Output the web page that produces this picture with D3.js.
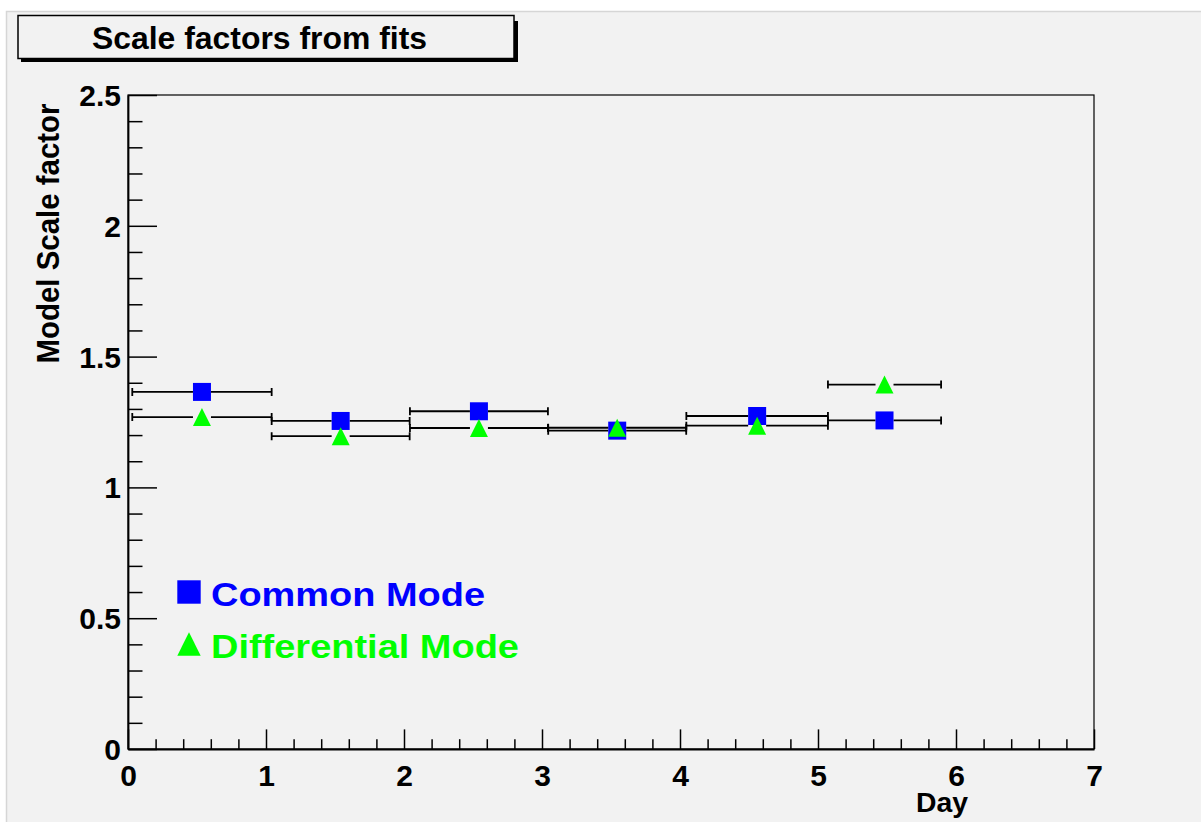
<!DOCTYPE html>
<html>
<head>
<meta charset="utf-8">
<script src="https://cdn.jsdelivr.net/npm/d3@7"></script>
<style>
  html, body { margin: 0; padding: 0; background: #ffffff; }
  svg { display: block; }
  text { font-family: "Liberation Sans", Arial, Helvetica, sans-serif; font-weight: bold; }
</style>
</head>
<body>
<svg id="chart" width="1201" height="822"></svg>
<script>
// Fitted scale factors per day, with the day range each fit covers
const days = [0.536, 1.541, 2.543, 3.545, 4.559, 5.482];
const dayErr = [0.505, 0.500, 0.500, 0.500, 0.513, 0.410];
const commonMode = [1.365, 1.254, 1.291, 1.217, 1.273, 1.256];
const differentialMode = [1.269, 1.196, 1.227, 1.228, 1.236, 1.393];

const xTicks = [0, 1, 2, 3, 4, 5, 6, 7];
const yTicks = [0, 0.5, 1, 1.5, 2, 2.5];
const seriesNames = ["Common Mode", "Differential Mode"];

const svg = d3.select("#chart");
const W = 1201, H = 822;

// canvas
svg.append("rect").attr("x", 6).attr("y", 11).attr("width", W - 6).attr("height", H - 11)
  .attr("fill", "#f2f2f2");
svg.append("path").attr("d", `M6.5,${H} V11.5 H${W}`)
  .attr("fill", "none").attr("stroke", "#d6d6d6").attr("stroke-width", 1.5);

const frame = { left: 128, right: 1094, top: 95, bottom: 749 };
const x = d3.scaleLinear().domain([0, 7]).range([frame.left, frame.right]);
const y = d3.scaleLinear().domain([0, 2.5]).range([frame.bottom, frame.top]);

// frame
svg.append("rect").attr("x", frame.left).attr("y", frame.top)
  .attr("width", frame.right - frame.left).attr("height", frame.bottom - frame.top)
  .attr("fill", "#f2f2f2").attr("stroke", "#000").attr("stroke-width", 1.2);

const plotW = frame.right - frame.left, plotH = frame.bottom - frame.top;
const yMajor = plotW * 0.03, xMajor = plotH * 0.03;

// y axis: major ticks with labels, minor ticks every 0.1
const yAxis = svg.append("g").attr("transform", `translate(${frame.left},0)`)
  .call(d3.axisLeft(y).tickValues(yTicks).tickSizeInner(-yMajor).tickSizeOuter(0)
    .tickPadding(7).tickFormat(d3.format("~g")));
yAxis.select(".domain").attr("stroke-width", 1.8);
yAxis.selectAll(".tick line").attr("stroke-width", 1.5);
yAxis.selectAll(".tick text").attr("font-size", 30).attr("fill", "#000")
  .attr("dy", null).attr("dominant-baseline", "central").attr("font-family", null);
svg.append("g").attr("transform", `translate(${frame.left},0)`)
  .call(d3.axisLeft(y).tickValues(d3.range(0, 26).map(i => i / 10).filter(v => Math.round(v * 10) % 5 !== 0))
    .tickSizeInner(-yMajor / 2).tickSizeOuter(0).tickFormat(""))
  .call(g => g.select(".domain").remove())
  .selectAll(".tick line").attr("stroke-width", 1.5);

// x axis: major ticks with labels, minor ticks every 0.2
const xAxis = svg.append("g").attr("transform", `translate(0,${frame.bottom})`)
  .call(d3.axisBottom(x).tickValues(xTicks).tickSizeInner(-xMajor).tickSizeOuter(0)
    .tickPadding(15).tickFormat(d3.format("d")));
xAxis.select(".domain").attr("stroke-width", 1.8);
xAxis.selectAll(".tick line").attr("stroke-width", 1.5);
xAxis.selectAll(".tick text").attr("font-size", 30).attr("fill", "#000")
  .attr("dy", null).attr("dominant-baseline", "hanging").attr("font-family", null);
svg.append("g").attr("transform", `translate(0,${frame.bottom})`)
  .call(d3.axisBottom(x).tickValues(d3.range(0, 36).map(i => i / 5).filter(v => Math.abs(v - Math.round(v)) > 1e-6))
    .tickSizeInner(-xMajor / 2).tickSizeOuter(0).tickFormat(""))
  .call(g => g.select(".domain").remove())
  .selectAll(".tick line").attr("stroke-width", 1.5);

// axis titles
svg.append("text").text("Model Scale factor")
  .attr("transform", "translate(59,233.5) rotate(-90)")
  .attr("text-anchor", "middle").attr("font-size", 32)
  .attr("textLength", 260).attr("lengthAdjust", "spacingAndGlyphs");
svg.append("text").text("Day")
  .attr("x", 968).attr("y", 811.5).attr("text-anchor", "end").attr("font-size", 27)
  .attr("textLength", 52).attr("lengthAdjust", "spacingAndGlyphs");

// title box with drop shadow
svg.append("rect").attr("x", 21).attr("y", 21).attr("width", 497).attr("height", 41).attr("fill", "#000");
svg.append("rect").attr("x", 18).attr("y", 15.5).attr("width", 496).attr("height", 43)
  .attr("fill", "#f2f2f2").attr("stroke", "#000").attr("stroke-width", 1.5);
svg.append("text").text("Scale factors from fits")
  .attr("x", 92).attr("y", 48.5).attr("font-size", 31)
  .attr("textLength", 335).attr("lengthAdjust", "spacingAndGlyphs");

// markers
const half = 9;
const squarePath = s => `M${-s},${-s}H${s}V${s}H${-s}Z`;
const trianglePath = s => `M0,${-s}L${s},${s}L${-s},${s}Z`;

const series = [
  { name: seriesNames[0], values: commonMode, color: "#0000ff", shape: squarePath },
  { name: seriesNames[1], values: differentialMode, color: "#00ff00", shape: trianglePath }
];

series.forEach(s => {
  const g = svg.append("g");
  days.forEach((d, i) => {
    const cx = x(d), cy = y(s.values[i]);
    const x0 = x(d - dayErr[i]), x1 = x(d + dayErr[i]);
    g.append("path")
      .attr("d", `M${x0},${cy}H${cx - half}M${cx + half},${cy}H${x1}` +
        `M${x0},${cy - 4}V${cy + 4}M${x1},${cy - 4}V${cy + 4}`)
      .attr("stroke", "#000").attr("stroke-width", 1.8).attr("fill", "none");
  });
  g.selectAll("path.mk").data(s.values).join("path").attr("class", "mk")
    .attr("transform", (v, i) => `translate(${x(days[i])},${y(v)})`)
    .attr("d", s.shape(half)).attr("fill", s.color);
});

// legend
const legend = svg.append("g");
series.forEach((s, i) => {
  const cy = 592 + i * 52;
  legend.append("path").attr("transform", `translate(189,${cy})`)
    .attr("d", s.shape(11.7)).attr("fill", s.color);
  legend.append("text").text(s.name)
    .attr("x", 211).attr("y", cy + 13.5).attr("font-size", 34).attr("fill", s.color)
    .attr("textLength", i === 0 ? 274 : 308).attr("lengthAdjust", "spacingAndGlyphs");
});
</script>
</body>
</html>
